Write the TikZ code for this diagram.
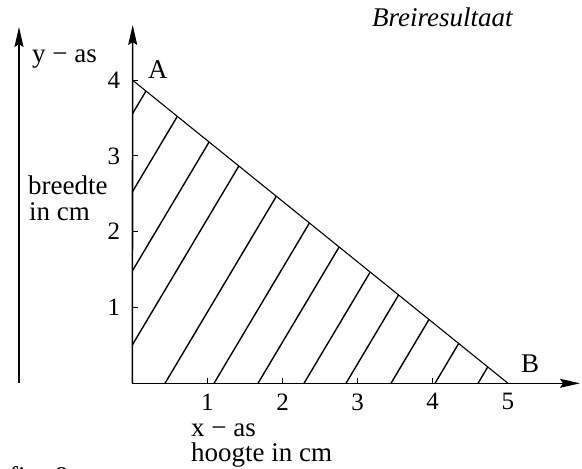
\documentclass[tikz,border=0pt]{standalone}
\usepackage{fontspec}
\setmainfont{Liberation Serif}
\usetikzlibrary{arrows.meta,calc}
\begin{document}
\begin{tikzpicture}[x=1pt,y=-1pt,
  axis/.style={line width=1.6pt,-{Stealth[length=20pt,width=9pt,inset=3pt]}},
  hatch/.style={line width=1.4pt},
  edge/.style={line width=1.1pt},
  tick/.style={line width=1pt},
  lbl/.style={font=\fontsize{27}{32}\selectfont,inner sep=0pt},
  small/.style={font=\fontsize{25}{30}\selectfont,inner sep=0pt}]
\useasboundingbox (0,0) rectangle (582,469);
% key points
\coordinate (O) at (132.3,383.3);
\coordinate (ytip) at (132.7,25);
\coordinate (xtip) at (580,383.3);
\coordinate (A) at (132.3,80);
\coordinate (B) at (508,383.3);
\coordinate (Lbot) at (19,383);
\coordinate (Ltop) at (19,27);
% hatching
\begin{scope}
  \clip (A) -- (O) -- (B) -- cycle;
  \foreach \y in {114,192,271,345}
    \draw[hatch] (132.3,\y) -- ++(150,-252);
  \foreach \x in {165,214,258,304,346,391,435,478}
    \draw[hatch] (\x,383.3) -- ++(150,-252);
\end{scope}
% hypotenuse
\draw[edge] (A) -- (B);
% axes
\draw[axis] (O) -- (ytip);
\draw[axis] (O) -- (xtip);
\draw[axis] (Lbot) -- (Ltop);
% ticks
\foreach \k in {1,...,4}
  \draw[tick] ($(O)+(0,-75.8*\k)$) -- ++(6,0) coordinate (yt\k);
\foreach \k in {1,...,4}
  \draw[tick] ($(O)+(75.1*\k,0)$) -- ++(0,-5) coordinate (xt\k);
% tick labels
\foreach \k in {1,...,4}
  \node[small,anchor=east] (yl\k) at ($(O)+(-12,-75.8*\k)$) {\k};
\foreach \k in {1,...,5}
  \node[small,anchor=north] (xl\k) at ($(O)+(75.1*\k,10)$) {\k};
% labels
\node[lbl,anchor=base west] (Alab) at (148,78) {A};
\node[lbl,anchor=base west] (Blab) at (521,372) {B};
\node[lbl,anchor=base west] (yas) at (32,62) {y − as};
\node[lbl,anchor=base west] (br1) at (28,194) {breedte};
\node[lbl,anchor=base west] (br2) at (29,220) {in cm};
\node[lbl,anchor=base west] (xas) at (191,436) {x − as};
\node[lbl,anchor=base west] (hg) at (191,461) {hoogte in cm};
\node[lbl,anchor=base west] (title) at (372,26) {\itshape Breiresultaat};
\node[lbl,anchor=base west] (fig) at (9,485) {fig. 8};
\end{tikzpicture}
\end{document}
